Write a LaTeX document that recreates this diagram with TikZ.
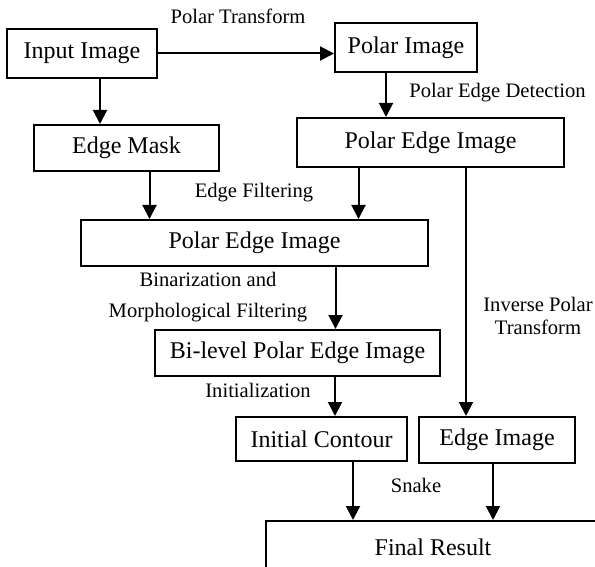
\documentclass[tikz,border=0pt]{standalone}
\usepackage{fontspec}
\setmainfont{Liberation Serif}
\usetikzlibrary{arrows.meta}

\tikzset{
  blk/.style={draw, line width=1pt, inner sep=0pt, font=\fontsize{12}{14}\selectfont},
  lbl/.style={font=\fontsize{10.3}{15.5}\selectfont, align=center, inner sep=0pt},
  arr/.style={-{Triangle[length=7pt,width=7pt]}, line width=1pt}
}

\begin{document}
\begin{tikzpicture}[x=0.5pt, y=-0.5pt]
	\useasboundingbox (0, 0) rectangle (595, 567);
	\clip (0, 0) rectangle (595, 567);

	% boxes
	\node (inp) [blk, minimum width=75pt, minimum height=24.5pt] at (82, 53.5) {Input Image};
	\node (polar) [blk, minimum width=71pt, minimum height=24.5pt] at (406, 47.5) {Polar Image};
	\node (pedge) [blk, minimum width=133.5pt, minimum height=24.5pt] at (430.5, 142.5) {Polar Edge Image};
	\node (mask) [blk, minimum width=92.5pt, minimum height=23pt] at (126.5, 148) {Edge Mask};
	\node (fedge) [blk, minimum width=173.5pt, minimum height=23pt] at (254.5, 243) {Polar Edge Image};
	\node (bilevel) [blk, minimum width=142.5pt, minimum height=23pt] at (297.5, 353) {Bi-level Polar Edge Image};
	\node (init) [blk, minimum width=85.5pt, minimum height=22pt] at (321.5, 439) {Initial Contour};
	\node (eimg) [blk, minimum width=78pt, minimum height=23pt] at (497, 440) {Edge Image};
	\node (final) [blk, minimum width=167pt, minimum height=26pt] at (433, 547) {Final Result};

	% arrows
	\draw [arr] (inp.east) -- (inp.east -| polar.west);
	\draw [arr] ([xshift=9pt]inp.south) -- ([xshift=9pt]inp.south |- mask.north);
	\draw [arr] ([xshift=-10pt]polar.south) -- ([xshift=-10pt]polar.south |- pedge.north);
	\draw [arr] ([xshift=11.5pt]mask.south) -- ([xshift=11.5pt]mask.south |- fedge.north);
	\draw [arr] ([xshift=-36pt]pedge.south) -- ([xshift=-36pt]pedge.south |- fedge.north);
	\draw [arr] ([xshift=17.75pt]pedge.south) -- ([xshift=17.75pt]pedge.south |- eimg.north);
	\draw [arr] ([xshift=40.5pt]fedge.south) -- ([xshift=40.5pt]fedge.south |- bilevel.north);
	\draw [arr] ([xshift=18.75pt]bilevel.south) -- ([xshift=18.75pt]bilevel.south |- init.north);
	\draw [arr] ([xshift=15.75pt]init.south) -- ([xshift=15.75pt]init.south |- final.north);
	\draw [arr] ([xshift=-2pt]eimg.south) -- ([xshift=-2pt]eimg.south |- final.north);

	% labels
	\node (lpt) [lbl] at (238, 16) {Polar Transform};
	\node (lped) [lbl, anchor=west] at (409, 93) {Polar Edge Detection};
	\node (lef) [lbl] at (254, 193) {Edge Filtering};
	\node (lbin) [lbl] at (208, 297) {Binarization and\\Morphological Filtering};
	\node (linv) [lbl, font=\fontsize{10.3}{11.5}\selectfont] at (538, 316) {Inverse Polar\\Transform};
	\node (lini) [lbl] at (258, 390) {Initialization};
	\node (lsn) [lbl] at (416, 485) {Snake};
\end{tikzpicture}
\end{document}
